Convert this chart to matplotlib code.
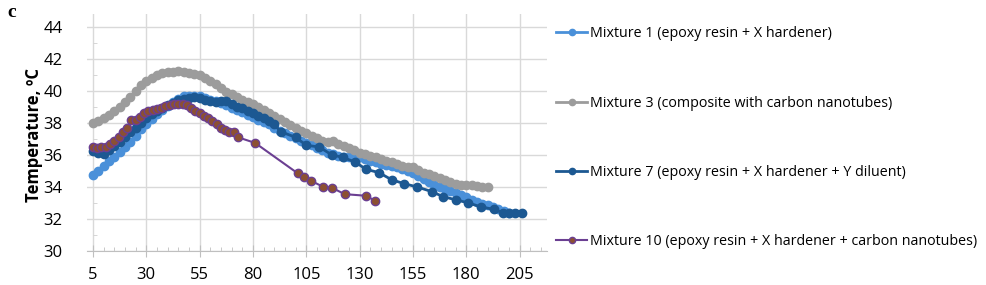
import matplotlib
matplotlib.use("Agg")
import matplotlib.pyplot as plt
from matplotlib.ticker import MultipleLocator

plt.rcParams['font.family'] = ['Open Sans', 'DejaVu Sans']

# Mixture 1 (epoxy resin + X hardener)
m1_x = [5, 7.5, 10, 12.5, 15, 17.5, 20, 22.5, 25, 27.5, 30, 32.5, 35, 37.5, 40, 42.5,
        45, 47.5, 50, 52.5, 55, 57.5, 60, 62.5, 65, 67.5, 70, 72.5, 75, 77.5, 80, 82.5,
        85, 87.5, 90, 92.5, 95, 97.5, 100, 102.5, 105, 107.5, 110, 112.5, 115, 117.5,
        120, 122.5, 125, 127.5, 130, 132.5, 135, 137.5, 140, 142.5, 145, 147.5, 150,
        152.5, 155, 157.5, 160, 162.5, 165, 167.5, 170, 172.5, 175, 177.5, 180, 182.5,
        185, 187.5, 190, 192.5, 195, 197.5, 200]
m1_y = [34.75, 35.0, 35.3, 35.6, 35.9, 36.2, 36.5, 36.8, 37.2, 37.6, 37.95, 38.25, 38.55,
        38.8, 39.05, 39.3, 39.5, 39.65, 39.7, 39.7, 39.65, 39.55, 39.45, 39.35, 39.25,
        39.1, 38.95, 38.8, 38.65, 38.5, 38.35, 38.2, 38.05, 37.9, 37.7, 37.5, 37.35,
        37.2, 37.05, 36.9, 36.75, 36.6, 36.45, 36.3, 36.15, 36.05, 35.95, 35.9, 35.85,
        35.85, 35.85, 35.75, 35.65, 35.55, 35.45, 35.4, 35.3, 35.25, 35.15, 35.0, 34.85,
        34.7, 34.5, 34.3, 34.15, 34.0, 33.9, 33.75, 33.6, 33.5, 33.35, 33.2, 33.05,
        32.95, 32.85, 32.75, 32.65, 32.5, 32.4]

# Mixture 3 (composite with carbon nanotubes)
m3_x = [5, 7.5, 10, 12.5, 15, 17.5, 20, 22.5, 25, 27.5, 30, 32.5, 35, 37.5, 40, 42.5,
        45, 47.5, 50, 52.5, 55, 57.5, 60, 62.5, 65, 67.5, 70, 72.5, 75, 77.5, 80, 82.5,
        85, 87.5, 90, 92.5, 95, 97.5, 100, 102.5, 105, 107.5, 110, 112.5, 115, 117.5,
        120, 122.5, 125, 127.5, 130, 132.5, 135, 137.5, 140, 142.5, 145, 147.5, 150,
        152.5, 155, 157.5, 160, 162.5, 165, 167.5, 170, 172.5, 175, 177.5, 180, 182.5,
        185, 187.5, 190]
m3_y = [38.0, 38.1, 38.3, 38.5, 38.75, 39.0, 39.3, 39.6, 40.0, 40.35, 40.6, 40.8, 41.0,
        41.1, 41.15, 41.2, 41.25, 41.2, 41.1, 41.05, 41.0, 40.8, 40.6, 40.4, 40.15,
        39.95, 39.8, 39.6, 39.45, 39.3, 39.2, 39.0, 38.8, 38.6, 38.4, 38.25, 38.05,
        37.85, 37.65, 37.5, 37.35, 37.2, 37.05, 36.9, 36.8, 36.85, 36.7, 36.55, 36.45,
        36.3, 36.15, 36.05, 35.95, 35.85, 35.75, 35.65, 35.55, 35.45, 35.3, 35.25,
        35.25, 35.05, 34.9, 34.8, 34.7, 34.55, 34.45, 34.3, 34.2, 34.15, 34.15, 34.1,
        34.05, 34.0, 34.0]

# Mixture 7 (epoxy resin + X hardener + Y diluent)
m7_x = [5, 7.5, 10, 12.5, 15, 17.5, 20, 22.5, 25, 27.5, 30, 32.5, 35, 37.5, 40, 42.5,
        45, 47.5, 50, 52.5, 55, 57.5, 60, 62.5, 65, 67.5, 70, 72.5, 75, 77.5, 80, 82.5,
        85, 87.5, 90, 93, 100, 105, 111, 117, 122, 128, 133, 139, 145, 151, 157, 164,
        169, 175, 181, 187, 193, 197, 200, 203, 206]
m7_y = [36.25, 36.1, 36.05, 36.3, 36.55, 36.8, 37.1, 37.4, 37.7, 38.0, 38.3, 38.55,
        38.75, 38.95, 39.1, 39.25, 39.4, 39.5, 39.55, 39.6, 39.55, 39.45, 39.35, 39.3,
        39.35, 39.35, 39.2, 39.0, 38.9, 38.75, 38.6, 38.45, 38.3, 38.1, 37.9, 37.45,
        37.1, 36.6, 36.5, 36.0, 35.85, 35.55, 35.1, 34.9, 34.45, 34.2, 34.0, 33.7, 33.4,
        33.2, 33.0, 32.75, 32.6, 32.4, 32.4, 32.4, 32.4]

# Mixture 10 (epoxy resin + X hardener + carbon nanotubes)
m10_x = [5, 7, 9, 11, 13, 15, 17, 19, 21, 23, 25, 27, 29, 31, 33, 35, 37, 39, 41, 43,
         45, 47, 49, 51, 53, 55, 57, 59, 61, 63, 65, 67, 69, 71, 73, 81, 101, 104, 107,
         113, 117, 123, 133, 137]
m10_y = [36.5, 36.45, 36.5, 36.5, 36.7, 36.9, 37.1, 37.4, 37.7, 38.2, 38.15, 38.35,
         38.6, 38.75, 38.8, 38.85, 38.95, 39.05, 39.1, 39.15, 39.2, 39.15, 39.1, 38.95,
         38.75, 38.6, 38.45, 38.3, 38.1, 37.9, 37.65, 37.55, 37.45, 37.4, 37.1, 36.75,
         34.85, 34.6, 34.4, 34.0, 33.95, 33.55, 33.45, 33.15]

labels = ["Mixture 1 (epoxy resin + X hardener)",
          "Mixture 3 (composite with carbon nanotubes)",
          "Mixture 7 (epoxy resin + X hardener + Y diluent)",
          "Mixture 10 (epoxy resin + X hardener + carbon nanotubes)"]

fig = plt.figure(figsize=(9.86, 2.85), dpi=100)
ax = fig.add_axes([0.0882, 0.1193, 0.4665, 0.8316])

ax.plot(m1_x, m1_y, color="#4a90d9", lw=2, marker="o", ms=6, mec="#4a90d9",
        label=labels[0])
ax.plot(m3_x, m3_y, color="#9c9c9c", lw=2, marker="o", ms=6, mec="#9c9c9c",
        label=labels[1])
ax.plot(m7_x, m7_y, color="#1c5892", lw=2, marker="o", ms=6, mec="#1c5892",
        label=labels[2])
ax.plot(m10_x, m10_y, color="#6b3f92", lw=1.5, marker="o", ms=6, mfc="#8c5032",
        mec="#6b3f92", label=labels[3])

ax.set_xlim(2.2, 217.8)
ax.set_ylim(30, 44.8)
ax.set_xticks(range(5, 206, 25))
ax.set_yticks(range(30, 45, 2))
ax.xaxis.set_minor_locator(MultipleLocator(5))
ax.yaxis.set_minor_locator(MultipleLocator(1))
ax.grid(True, which="major", color="#d9d9d9", lw=1)
ax.set_axisbelow(True)

for s in ["top", "right"]:
    ax.spines[s].set_visible(False)
ax.spines["left"].set_position(("data", 5))
ax.spines["left"].set_color("none")
ax.spines["bottom"].set_color("#bfbfbf")

ax.tick_params(axis="x", which="major", direction="inout", length=9, color="#bfbfbf",
               labelsize=12, pad=7)
ax.tick_params(axis="x", which="minor", direction="in", length=3, color="#bfbfbf")
ax.tick_params(axis="y", which="major", length=0, labelsize=12, pad=22)
ax.tick_params(axis="y", which="minor", direction="in", length=3, color="#d0d0d0")

ax.set_ylabel("Temperature, ºC", fontsize=12, fontweight="bold")
ax.yaxis.set_label_coords(-0.095, 0.49)

fig.text(0.007, 0.985, "c", fontsize=14, fontweight="bold", family="Liberation Serif",
         va="top", ha="left")

handles, labs = ax.get_legend_handles_labels()
fig.legend(handles, labs, loc="upper left", bbox_to_anchor=(0.558, 0.928),
           frameon=False, fontsize=10.3, handlelength=2.2, handletextpad=0.2,
           labelspacing=3.8, borderaxespad=0, markerscale=0.75)

fig.savefig("out.png", dpi=100)
